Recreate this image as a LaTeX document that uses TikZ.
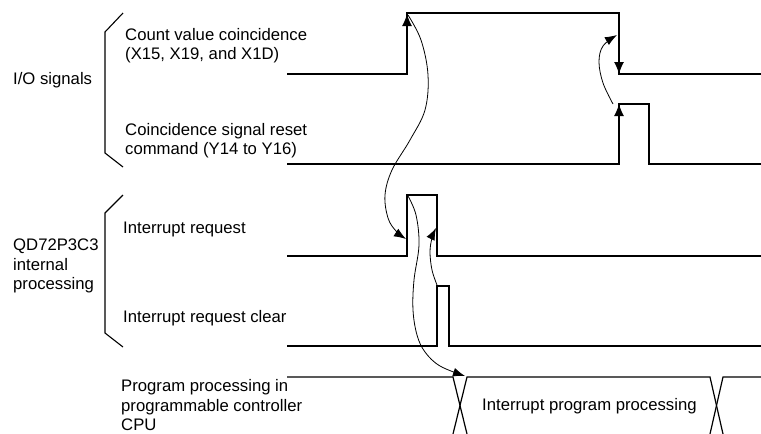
\documentclass[tikz,border=0pt]{standalone}
\usepackage{fontspec}
\setmainfont{Liberation Sans}
\usetikzlibrary{arrows.meta}
\begin{document}
\begin{tikzpicture}[x=1pt,y=-1pt,
  sig/.style={line width=1.2pt, line join=miter},
  lbl/.style={anchor=base west, inner sep=0pt, font=\fontsize{16.7}{20}\selectfont},
  crv/.style={line width=0.8pt, -{Latex[length=12pt,width=9pt]}},
  tip/.style={line width=1.2pt, -{Latex[length=12pt,width=10pt]}},
  brace/.style={line width=1.1pt}]
\useasboundingbox (0,0) rectangle (761,434);
% named points
\coordinate (a1) at (407,14);
\coordinate (a2) at (619,74);
\coordinate (a3) at (619,104);
% waveforms
\draw[sig] (287,74) -- (407,74) -- (407,13) -- (619,13) -- (a2) -- (761,74);
\draw[tip] (407,40) -- (a1);
\draw[tip] (619,40) -- (a2);
\draw[sig] (287,164) -- (619,164) -- (a3) -- (649,104) -- (649,164) -- (761,164);
\draw[tip] (619,140) -- (a3);
\draw[sig] (287,256) -- (407,256) -- (407,195) -- (437,195) -- (437,256) -- (761,256);
\draw[sig] (287,346) -- (437,346) -- (437,286) -- (449,286) -- (449,346) -- (761,346);
\draw[sig] (287,377) -- (453,377) -- (467,434);
\draw[sig] (453,434) -- (467,377) -- (710,377) -- (723,434);
\draw[sig] (710,434) -- (723,377) -- (761,377);
% braces
\draw[brace] (123,13) -- (105,32) -- (105,153) -- (123,167);
\draw[brace] (123,195) -- (105,213) -- (105,333) -- (123,347);
% causal curves
\draw[crv] plot[smooth, tension=0.6] coordinates {(408,15) (421,40) (428,75) (425,110) (410,140) (392,170) (385,195) (388,218) (396,231) (406,239)};
\draw[crv] plot[smooth, tension=0.6] coordinates {(437,285) (432,270) (430,252) (432,238) (436,228)};
\draw[crv] plot[smooth, tension=0.6] coordinates {(408,196) (416,215) (419,245) (414,280) (413,310) (417,335) (425,352) (440,366) (465,376)};
\draw[crv] plot[smooth, tension=0.6] coordinates {(613,104) (603,83) (599,62) (603,46) (617,35)};
% labels
\node[lbl] (cv1) at (125,40) {Count value coincidence};
\node[lbl] (cv2) at (125,59) {(X15, X19, and X1D)};
\node[lbl] (cr1) at (125,135) {Coincidence signal reset};
\node[lbl] (cr2) at (125,154) {command (Y14 to Y16)};
\node[lbl] (io) at (13,84) {I/O signals};
\node[lbl] (qd1) at (13,250) {QD72P3C3};
\node[lbl] (qd2) at (13,270) {internal};
\node[lbl] (qd3) at (13,289) {processing};
\node[lbl] (ir) at (123,233) {Interrupt request};
\node[lbl] (irc) at (123,322) {Interrupt request clear};
\node[lbl] (pp1) at (121,391) {Program processing in};
\node[lbl] (pp2) at (121,411) {programmable controller};
\node[lbl] (pp3) at (121,430) {CPU};
\node[lbl] (ipp) at (482,410) {Interrupt program processing};
\end{tikzpicture}
\end{document}
